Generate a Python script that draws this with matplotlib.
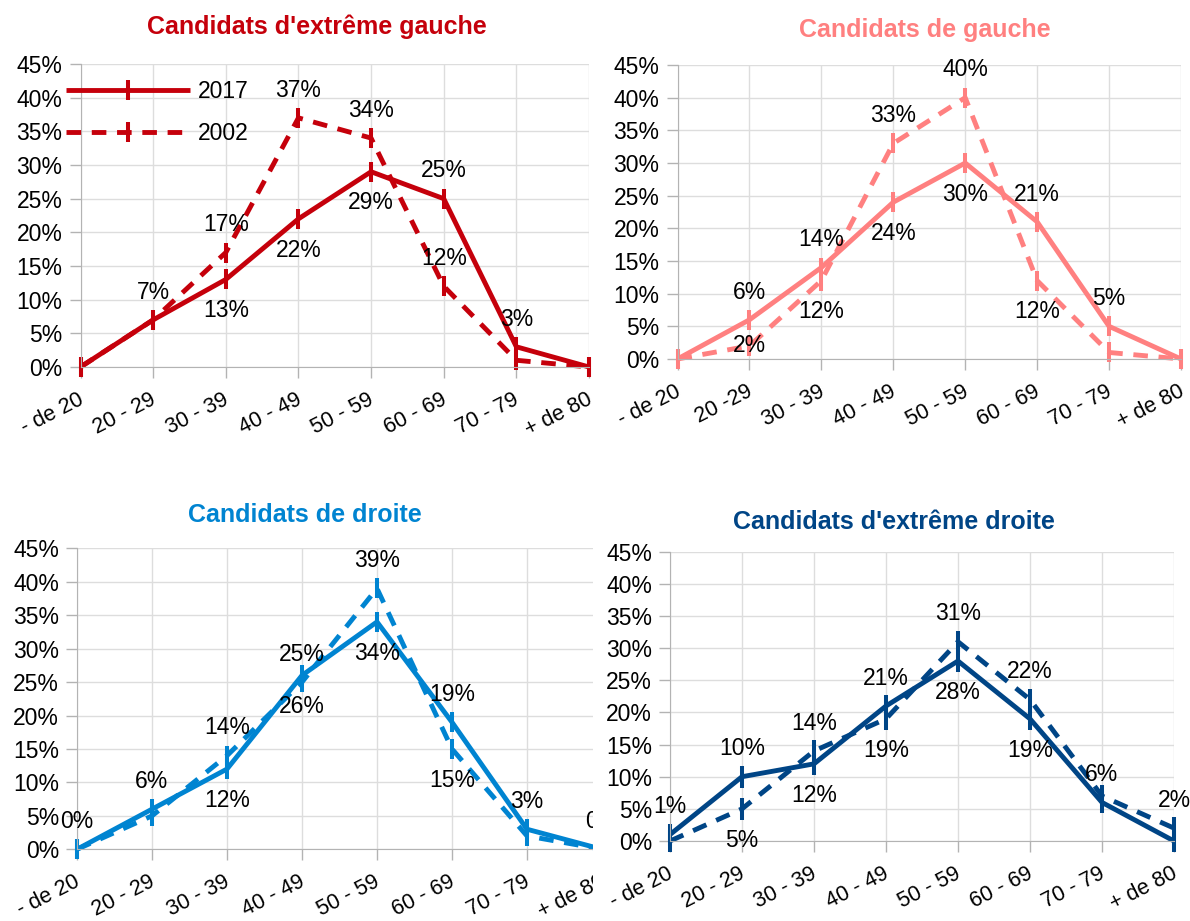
import matplotlib

matplotlib.use("Agg")

import matplotlib.pyplot as plt  # noqa: E402
import numpy as np  # noqa: E402
from matplotlib.patches import Rectangle  # noqa: E402
from matplotlib.transforms import ScaledTranslation  # noqa: E402

plt.rcParams["font.family"] = ["Liberation Sans", "DejaVu Sans"]

W, H = 1190, 921  # output size in pixels (dpi 100)

# --- data -------------------------------------------------------------
ages = ["- de 20", "20 - 29", "30 - 39", "40 - 49", "50 - 59",
        "60 - 69", "70 - 79", "+ de 80"]
ages_gauche = ["- de 20", "20 -29", "30 - 39", "40 - 49", "50 - 59",
               "60 - 69", "70 - 79", "+ de 80"]

# share of candidates per age group, in %
extreme_gauche_2017 = [0, 7, 13, 22, 29, 25, 3, 0]
extreme_gauche_2002 = [0, 7, 17, 37, 34, 12, 1, 0]
gauche_2017 = [0, 6, 14, 24, 30, 21, 5, 0]
gauche_2002 = [0, 2, 12, 33, 40, 12, 1, 0]
droite_2017 = [0, 6, 12, 26, 34, 19, 3, 0]
droite_2002 = [0, 5, 14, 25, 39, 15, 2, 0]
extreme_droite_2017 = [1, 10, 12, 21, 28, 19, 6, 0]
extreme_droite_2002 = [0, 5, 14, 19, 31, 22, 7, 2]

y_ticks = list(range(0, 50, 5))

# where each data label sits relative to its point (index -> placement)
labels_eg = {"2017": {1: "above", 2: "below", 3: "below", 4: "below", 5: "above", 6: "above"},
             "2002": {2: "above", 3: "above", 4: "above", 5: "above"}}
labels_g = {"2017": {1: "above", 2: "above", 3: "below", 4: "below", 5: "above", 6: "above"},
            "2002": {1: "center", 2: "below", 3: "above", 4: "above", 5: "below"}}
labels_d = {"2017": {0: "above", 1: "above", 2: "below", 3: "below", 4: "below",
                     5: "above", 6: "above", 7: "above"},
            "2002": {2: "above", 3: "above", 4: "above", 5: "below"}}
labels_ed = {"2017": {0: "above", 1: "above", 2: "below", 3: "above", 4: "below",
                      5: "below", 6: "above"},
             "2002": {1: "below", 2: "above", 3: "below", 4: "above", 5: "above", 7: "above"}}

OFFSETS = {"above": 20, "below": -22.5, "center": 0}
FS = 16.5  # y tick / data label / legend font size
FS_X = 15.5  # rotated category labels

panels = [
    dict(title="Candidats d'extrême gauche", color="#C5000B", cats=ages,
         s2017=extreme_gauche_2017, s2002=extreme_gauche_2002, labels=labels_eg,
         box=(80.5, 589, 64, 367), title_xy=(317, 34), ms=14, legend=True),
    dict(title="Candidats de gauche", color="#FF8080", cats=ages_gauche,
         s2017=gauche_2017, s2002=gauche_2002, labels=labels_g,
         box=(677.5, 1181, 65, 359), title_xy=(925, 37), ms=14, legend=False),
    dict(title="Candidats de droite", color="#0084D1", cats=ages,
         s2017=droite_2017, s2002=droite_2002, labels=labels_d,
         box=(77, 602, 548.3, 849.3), title_xy=(305, 522), ms=14, legend=False),
    dict(title="Candidats d'extrême droite", color="#004586", cats=ages,
         s2017=extreme_droite_2017, s2002=extreme_droite_2002, labels=labels_ed,
         box=(670, 1174, 551.7, 841), title_xy=(894, 529), ms=16, legend=False),
]


def px_box(x0, x7, y45, y0):
    return [x0 / W, 1 - y0 / H, (x7 - x0) / W, (y0 - y45) / H]


def draw_panel(fig, p):
    ax = fig.add_axes(px_box(*p["box"]))
    x = np.arange(len(p["cats"]))
    styles = (("2017", p["s2017"], "-"), ("2002", p["s2002"], (0, (3, 2.2))))
    for year, values, ls in styles:
        ax.plot(x, values, color=p["color"], lw=3.5, ls=ls, marker="|",
                ms=p["ms"], mew=2.9, clip_on=False, label=year,
                solid_capstyle="butt", dash_capstyle="butt")
        for i, where in p["labels"][year].items():
            ax.annotate(f"{values[i]}%", (i, values[i]), xytext=(0, OFFSETS[where]),
                        textcoords="offset points", ha="center", va="center",
                        fontsize=FS, annotation_clip=False)

    ax.set_xlim(0, len(x) - 1)
    ax.set_ylim(0, 45)
    ax.set_xticks(x)
    ax.set_xticklabels(p["cats"], rotation=27, ha="right", va="baseline",
                       rotation_mode="anchor", fontsize=FS_X)
    ax.set_yticks(y_ticks)
    ax.set_yticklabels([f"{v}%" for v in y_ticks])
    ax.grid(True, color="#dddddd", lw=1)
    ax.set_axisbelow(True)
    for side in ("top", "right"):
        ax.spines[side].set_visible(False)
    for side in ("left", "bottom"):
        ax.spines[side].set_color("#b3b3b3")
    ax.tick_params(axis="both", length=8, width=1, color="#b3b3b3")
    ax.tick_params(axis="y", pad=5, labelsize=FS)
    ax.tick_params(axis="x", pad=18)
    nudge = ScaledTranslation(4 / 100, 0, fig.dpi_scale_trans)
    for lab in ax.get_xticklabels():
        lab.set_transform(lab.get_transform() + nudge)

    tx, ty = p["title_xy"]
    fig.text(tx / W, 1 - ty / H, p["title"], color=p["color"], fontsize=18,
             weight="bold", ha="center", va="baseline", zorder=3)

    if p["legend"]:
        ax.legend(loc="upper left", bbox_to_anchor=(66 / W, 1 - 80 / H),
                  bbox_transform=fig.transFigure, frameon=False, fontsize=FS,
                  handlelength=5.4, handletextpad=0.35, labelspacing=0.85,
                  borderpad=0, borderaxespad=0)
    return ax


fig = plt.figure(figsize=(W / 100, H / 100), dpi=100)
axes = [draw_panel(fig, p) for p in panels]

# the bottom-left chart is cut off where the bottom-right one begins
fig.add_artist(Rectangle((593 / W, 0), 1 - 593 / W, 1 - 470 / H,
                         transform=fig.transFigure, facecolor="white",
                         edgecolor="none", zorder=1))
axes[3].set_zorder(2)

fig.savefig("out.png", dpi=100)
plt.close(fig)
